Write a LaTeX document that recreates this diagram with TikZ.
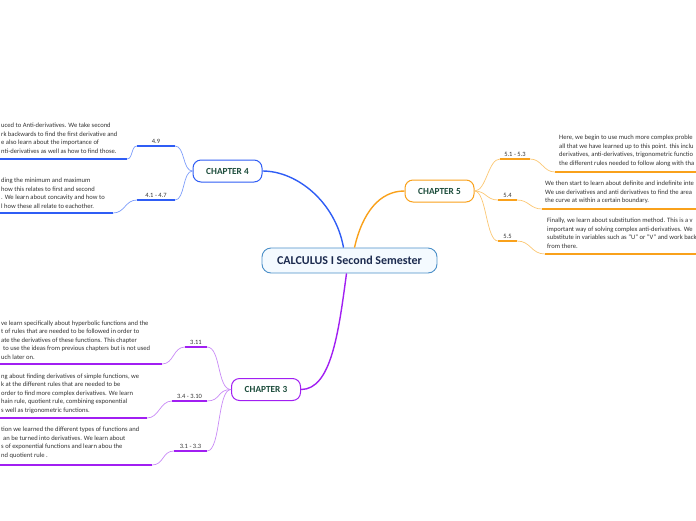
\documentclass[tikz,border=0pt]{standalone}
\usepackage{fontspec}
\setmainfont{Carlito}
\usepackage{xcolor}
\usepackage{tikz}

\definecolor{rootline}{HTML}{4A8FC8}
\definecolor{rootfill}{HTML}{F4FAFF}
\definecolor{roottext}{HTML}{1B2A4E}
\definecolor{chaptext}{HTML}{1D4D3C}
\definecolor{bodytext}{HTML}{333333}
\definecolor{blueC}{HTML}{2F5DF5}
\definecolor{blueL}{HTML}{7D9DFA}
\definecolor{orangeC}{HTML}{F9A11B}
\definecolor{orangeL}{HTML}{FBC773}
\definecolor{purpleC}{HTML}{A11FF2}
\definecolor{purpleL}{HTML}{C98BF6}

\begin{document}
\begin{tikzpicture}[x=1pt, y=-1pt,
  root/.style={draw=rootline, fill=rootfill, line width=0.9pt, rounded corners=9pt,
               minimum width=175pt, minimum height=25pt, inner sep=0pt,
               font=\bfseries\fontsize{12}{14}\selectfont, text=roottext},
  chap/.style={draw=#1, fill=white, line width=1pt, rounded corners=8pt,
               minimum width=69pt, minimum height=22pt, inner sep=0pt,
               font=\bfseries\fontsize{9.3}{11}\selectfont, text=chaptext},
  mainln/.style={draw=#1, line width=1.4pt},
  subln/.style={draw=#1, line width=0.7pt},
  ulin/.style={draw=#1, line width=1.8pt},
  numlbl/.style={above, inner sep=1.5pt, font=\fontsize{6.5}{7.5}\selectfont, text=bodytext},
  desc/.style={align=left, inner xsep=1pt, inner ysep=0pt,
               font=\fontsize{6.6}{8.5}\selectfont, text=bodytext}
]
  \useasboundingbox (0,0) rectangle (696,520);
  \coordinate (rim) at (700,0);

  \node[root] (calc) at (349.5,260.5) {CALCULUS I Second Semester};
  \node[chap=blueC]   (ch4) at (227.5,171)   {CHAPTER 4};
  \node[chap=orangeC] (ch5) at (439.5,191)   {CHAPTER 5};
  \node[chap=purpleC] (ch3) at (266,389.5)   {CHAPTER 3};

  \draw[mainln=blueC]   ([xshift=-6pt]calc.north) .. controls +(-8,-45) and +(35,0) .. (ch4.east);
  \draw[mainln=orangeC] ([xshift=5pt]calc.north)  .. controls +(8,-35) and +(-25,0) .. (ch5.west);
  \draw[mainln=purpleC] ([xshift=-3pt]calc.south) .. controls +(-8,60) and +(30,0) .. (ch3.east);

  % chapter 4
  \coordinate (c49r) at (175,146);
  \coordinate (c49l) at (137,146);
  \coordinate (c49e) at (127,159);
  \node[desc, anchor=south west] (d49) at (0,153.5)
    {uced to Anti-derivatives. We take second\\
     rk backwards to find the first derivative and\\
     e also learn about the importance of\\
     nti-derivatives as well as how to find those.};
  \draw[subln=blueL] (ch4.west) .. controls +(-10,0) and +(10,0) .. (c49r);
  \draw[ulin=blueC] (c49r) -- node[numlbl] (n49) {4.9} (c49l);
  \draw[subln=blueL] (c49l) .. controls +(-6,0) and +(6,0) .. (c49e);
  \draw[ulin=blueC] (c49e) -- (c49e -| d49.south west);

  \coordinate (c41r) at (175,200);
  \coordinate (c41l) at (137,200);
  \coordinate (c41e) at (113,213);
  \node[desc, anchor=south west] (d41) at (0,208.5)
    {ding the minimum and maximum\\
     how this relates to first and second\\
     . We learn about concavity and how to\\
     l how these all relate to eachother.};
  \draw[subln=blueL] (ch4.west) .. controls +(-10,0) and +(10,0) .. (c41r);
  \draw[ulin=blueC] (c41r) -- node[numlbl] (n41) {4.1 - 4.7} (c41l);
  \draw[subln=blueL] (c41l) .. controls +(-12,0) and +(12,0) .. (c41e);
  \draw[ulin=blueC] (c41e) -- (c41e -| d41.south west);

  % chapter 5
  \coordinate (c51l) at (500,159);
  \coordinate (c51r) at (530,159);
  \coordinate (c51e) at (555,172);
  \node[desc, anchor=south west] (d51) at (558,166.5)
    {Here, we begin to use much more complex proble\\
     all that we have learned up to this point. this inclu\\
     derivatives, anti-derivatives, trigonometric functio\\
     the different rules needed to follow along with tha};
  \draw[subln=orangeL] (ch5.east) .. controls +(12,0) and +(-12,0) .. (c51l);
  \draw[ulin=orangeC] (c51l) -- node[numlbl] (n51) {5.1 - 5.3} (c51r);
  \draw[subln=orangeL] (c51r) .. controls +(12,0) and +(-12,0) .. (c51e);
  \draw[ulin=orangeC] (c51e) -- (c51e -| rim);

  \coordinate (c54l) at (498,200);
  \coordinate (c54r) at (517,200);
  \coordinate (c54e) at (542,209);
  \node[desc, anchor=south west] (d54) at (544,204)
    {We then start to learn about definite and indefinite inte\\
     We use derivatives and anti derivatives to find the area\\
     the curve at within a certain boundary.};
  \draw[subln=orangeL] (ch5.east) .. controls +(12,0) and +(-12,0) .. (c54l);
  \draw[ulin=orangeC] (c54l) -- node[numlbl] (n54) {5.4} (c54r);
  \draw[subln=orangeL] (c54r) .. controls +(12,0) and +(-12,0) .. (c54e);
  \draw[ulin=orangeC] (c54e) -- (c54e -| rim);

  \coordinate (c55l) at (498,241);
  \coordinate (c55r) at (517,241);
  \coordinate (c55e) at (545,254);
  \node[desc, anchor=south west] (d55) at (546,248.5)
    {Finally, we learn about substitution method. This is a v\\
     important way of solving complex anti-derivatives. We\\
     substitute in variables such as "U" or "V" and work back\\
     from there.};
  \draw[subln=orangeL] (ch5.east) .. controls +(12,0) and +(-12,0) .. (c55l);
  \draw[ulin=orangeC] (c55l) -- node[numlbl] (n55) {5.5} (c55r);
  \draw[subln=orangeL] (c55r) .. controls +(14,0) and +(-14,0) .. (c55e);
  \draw[ulin=orangeC] (c55e) -- (c55e -| rim);

  % chapter 3
  \coordinate (c311r) at (207,347);
  \coordinate (c311l) at (185,347);
  \coordinate (c311e) at (162,364);
  \node[desc, anchor=south west] (d311) at (0,359.5)
    {ve learn specifically about hyperbolic functions and the\\
     t of rules that are needed to be followed in order to\\
     ate the derivatives of these functions. This chapter\\
     \hspace*{2pt}to use the ideas from previous chapters but is not used\\
     uch later on.};
  \draw[subln=purpleL] (ch3.west) .. controls +(-14,0) and +(14,0) .. (c311r);
  \draw[ulin=purpleC] (c311r) -- node[numlbl] (n311) {3.11} (c311l);
  \draw[subln=purpleL] (c311l) .. controls +(-12,0) and +(12,0) .. (c311e);
  \draw[ulin=purpleC] (c311e) -- (c311e -| d311.south west);

  \coordinate (c34r) at (207,401);
  \coordinate (c34l) at (172,401);
  \coordinate (c34e) at (147,418);
  \node[desc, anchor=south west] (d34) at (0,413.5)
    {ng about finding derivatives of simple functions, we\\
     k at the different rules that are needed to be\\
     order to find more complex derivatives. We learn\\
     hain rule, quotient rule, combining exponential\\
     s well as trigonometric functions.};
  \draw[subln=purpleL] (ch3.west) .. controls +(-14,0) and +(14,0) .. (c34r);
  \draw[ulin=purpleC] (c34r) -- node[numlbl] (n34) {3.4 - 3.10} (c34l);
  \draw[subln=purpleL] (c34l) .. controls +(-12,0) and +(12,0) .. (c34e);
  \draw[ulin=purpleC] (c34e) -- (c34e -| d34.south west);

  \coordinate (c31r) at (207,451);
  \coordinate (c31l) at (174,451);
  \coordinate (c31e) at (152,465);
  \node[desc, anchor=south west] (d31) at (0,458.5)
    {tion we learned the different types of functions and\\
     \hspace*{2pt}an be turned into derivatives. We learn about\\
     s of exponential functions and learn abou the\\
     nd quotient rule .};
  \draw[subln=purpleL] (ch3.west) .. controls +(-14,0) and +(14,0) .. (c31r);
  \draw[ulin=purpleC] (c31r) -- node[numlbl] (n31) {3.1 - 3.3} (c31l);
  \draw[subln=purpleL] (c31l) .. controls +(-12,0) and +(12,0) .. (c31e);
  \draw[ulin=purpleC] (c31e) -- (c31e -| d31.south west);
\end{tikzpicture}
\end{document}
